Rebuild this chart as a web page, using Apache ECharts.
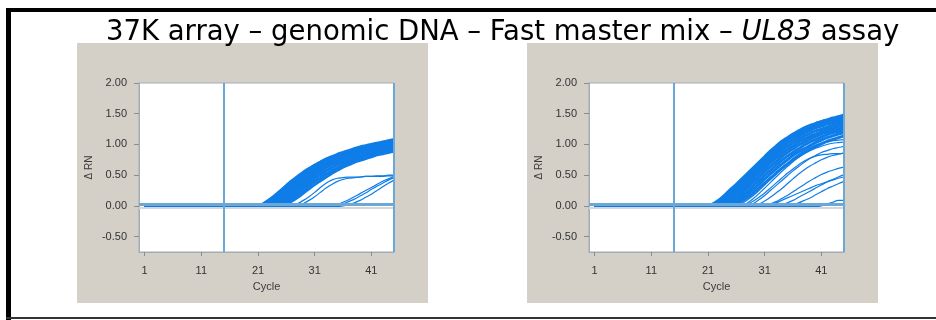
<!DOCTYPE html>
<html>
<head>
<meta charset="utf-8">
<script src="https://cdn.jsdelivr.net/npm/echarts@6/dist/echarts.min.js"></script>
<style>
  html, body { margin: 0; padding: 0; background: #ffffff; }
  #chart { width: 936px; height: 320px; }
</style>
</head>
<body>
<div id="chart"></div>
<script>
// Amplification plots (ΔRn vs cycle) for two runs of the UL83 assay.
// Cycle positions shared by every curve: cycle 1, then each cycle 19..45.
const cycles = [1, 19, 20, 21, 22, 23, 24, 25, 26, 27, 28, 29, 30, 31, 32, 33, 34, 35, 36, 37, 38, 39, 40, 41, 42, 43, 44, 45];

const xTickCycles = [1, 11, 21, 31, 41];
const yTickValues = [-0.5, 0, 0.5, 1, 1.5, 2];
const thresholdRn = 0.02;
const baselineEndCycle = 15;
const lastCycle = 45;

// Left plot: main amplification band
const leftBand = [
  [0, 0, -0.01, 0, 0.04, 0.10, 0.17, 0.25, 0.33, 0.41, 0.48, 0.55, 0.61, 0.66, 0.71, 0.75, 0.79, 0.82, 0.85, 0.88, 0.91, 0.93, 0.95, 0.97, 0.99, 1.01, 1.03, 1.06],
  [0, 0, -0.01, 0, 0.03, 0.09, 0.16, 0.24, 0.32, 0.40, 0.47, 0.54, 0.60, 0.66, 0.71, 0.76, 0.80, 0.84, 0.87, 0.90, 0.93, 0.96, 0.98, 1.00, 1.02, 1.04, 1.06, 1.08],
  [0, 0, -0.01, -0.01, 0.02, 0.07, 0.13, 0.21, 0.29, 0.37, 0.44, 0.51, 0.58, 0.63, 0.68, 0.73, 0.77, 0.81, 0.84, 0.87, 0.90, 0.92, 0.95, 0.97, 0.99, 1.01, 1.03, 1.05],
  [0, 0, -0.01, -0.01, 0.01, 0.04, 0.10, 0.17, 0.25, 0.33, 0.41, 0.48, 0.55, 0.61, 0.66, 0.71, 0.75, 0.79, 0.83, 0.86, 0.89, 0.92, 0.94, 0.96, 0.98, 1.00, 1.02, 1.04],
  [0, 0, -0.01, -0.01, 0, 0.02, 0.07, 0.13, 0.21, 0.29, 0.37, 0.44, 0.51, 0.57, 0.63, 0.68, 0.72, 0.76, 0.80, 0.83, 0.86, 0.89, 0.91, 0.93, 0.95, 0.97, 0.99, 1.01],
  [0, 0, -0.01, -0.02, -0.01, 0.01, 0.04, 0.10, 0.17, 0.25, 0.33, 0.40, 0.47, 0.54, 0.60, 0.65, 0.70, 0.74, 0.78, 0.81, 0.84, 0.87, 0.90, 0.92, 0.94, 0.96, 0.98, 1.00],
  [0, 0, -0.01, -0.02, -0.01, 0, 0.02, 0.07, 0.13, 0.21, 0.29, 0.36, 0.43, 0.50, 0.56, 0.62, 0.67, 0.71, 0.75, 0.79, 0.82, 0.85, 0.88, 0.90, 0.92, 0.94, 0.96, 0.98],
  [0, 0, -0.01, -0.02, -0.02, -0.01, 0.01, 0.04, 0.09, 0.16, 0.24, 0.31, 0.38, 0.45, 0.51, 0.57, 0.62, 0.67, 0.71, 0.75, 0.78, 0.81, 0.84, 0.87, 0.89, 0.91, 0.93, 0.95],
  [0, 0, -0.01, -0.02, -0.02, -0.01, 0, 0.02, 0.06, 0.12, 0.19, 0.26, 0.33, 0.40, 0.46, 0.52, 0.57, 0.62, 0.67, 0.71, 0.74, 0.78, 0.81, 0.83, 0.86, 0.88, 0.90, 0.92],
  [0, 0, -0.01, -0.02, -0.02, -0.02, -0.01, 0, 0.03, 0.08, 0.14, 0.21, 0.28, 0.35, 0.41, 0.47, 0.53, 0.58, 0.63, 0.67, 0.71, 0.74, 0.77, 0.80, 0.83, 0.85, 0.87, 0.89]
];

// Left plot: low-plateau and late-rising wells
const leftSparse = [
  [0, 0, 0, -0.01, -0.01, -0.01, -0.01, -0.01, 0, 0.01, 0.04, 0.09, 0.15, 0.22, 0.30, 0.37, 0.42, 0.45, 0.46, 0.47, 0.47, 0.47, 0.48, 0.48, 0.48, 0.48, 0.49, 0.49],
  [0, 0, 0, -0.01, -0.01, -0.01, -0.01, -0.01, -0.01, -0.01, 0.01, 0.04, 0.09, 0.15, 0.22, 0.29, 0.35, 0.40, 0.43, 0.45, 0.46, 0.47, 0.48, 0.48, 0.49, 0.49, 0.50, 0.50],
  [0, 0, 0, -0.01, -0.01, -0.01, -0.01, -0.01, -0.01, -0.01, -0.01, -0.01, -0.01, -0.01, -0.01, -0.01, 0, 0.02, 0.06, 0.10, 0.15, 0.20, 0.25, 0.30, 0.35, 0.40, 0.44, 0.48],
  [0, 0, 0, -0.01, -0.01, -0.01, -0.01, -0.01, -0.01, -0.01, -0.01, -0.01, -0.01, -0.01, -0.01, -0.01, -0.01, -0.01, 0, 0.02, 0.05, 0.09, 0.14, 0.19, 0.25, 0.31, 0.37, 0.42],
  [0, 0, 0, -0.01, -0.01, -0.01, -0.01, -0.01, -0.01, -0.01, -0.01, -0.01, -0.01, -0.01, -0.01, -0.01, -0.01, 0, 0.03, 0.07, 0.11, 0.16, 0.21, 0.27, 0.32, 0.37, 0.42, 0.46]
];

// Right plot: main amplification band
const rightBand = [
  [0, 0, -0.01, 0, 0.03, 0.08, 0.16, 0.24, 0.33, 0.42, 0.51, 0.60, 0.69, 0.78, 0.86, 0.94, 1.02, 1.09, 1.15, 1.21, 1.26, 1.30, 1.34, 1.37, 1.40, 1.43, 1.45, 1.48],
  [0, 0, -0.01, 0, 0.04, 0.10, 0.18, 0.27, 0.35, 0.44, 0.53, 0.62, 0.71, 0.80, 0.89, 0.97, 1.05, 1.11, 1.17, 1.22, 1.27, 1.31, 1.34, 1.37, 1.39, 1.41, 1.43, 1.45],
  [0, 0, -0.01, -0.01, 0.02, 0.07, 0.14, 0.22, 0.31, 0.40, 0.49, 0.58, 0.67, 0.76, 0.84, 0.92, 1.00, 1.07, 1.13, 1.18, 1.23, 1.27, 1.30, 1.33, 1.36, 1.38, 1.40, 1.42],
  [0, 0, -0.01, -0.01, 0.01, 0.04, 0.10, 0.18, 0.27, 0.35, 0.44, 0.53, 0.62, 0.71, 0.80, 0.88, 0.95, 1.02, 1.08, 1.14, 1.19, 1.23, 1.27, 1.30, 1.33, 1.35, 1.37, 1.39],
  [0, 0, -0.01, -0.01, 0, 0.02, 0.07, 0.14, 0.22, 0.31, 0.40, 0.49, 0.58, 0.66, 0.75, 0.83, 0.90, 0.97, 1.03, 1.09, 1.14, 1.18, 1.22, 1.25, 1.28, 1.31, 1.33, 1.35],
  [0, 0, -0.01, -0.02, -0.01, 0.01, 0.04, 0.10, 0.18, 0.26, 0.35, 0.44, 0.53, 0.61, 0.70, 0.78, 0.85, 0.92, 0.98, 1.04, 1.09, 1.13, 1.17, 1.21, 1.24, 1.27, 1.29, 1.31],
  [0, 0, -0.01, -0.02, -0.01, 0, 0.02, 0.07, 0.13, 0.21, 0.30, 0.39, 0.47, 0.56, 0.64, 0.72, 0.80, 0.87, 0.93, 0.99, 1.04, 1.09, 1.13, 1.17, 1.20, 1.23, 1.25, 1.27],
  [0, 0, -0.01, -0.02, -0.02, -0.01, 0.01, 0.04, 0.09, 0.16, 0.24, 0.33, 0.41, 0.50, 0.58, 0.66, 0.74, 0.81, 0.87, 0.93, 0.99, 1.04, 1.08, 1.12, 1.16, 1.19, 1.21, 1.23],
  [0, 0, -0.01, -0.02, -0.02, -0.01, 0, 0.02, 0.06, 0.12, 0.19, 0.27, 0.35, 0.44, 0.52, 0.60, 0.68, 0.75, 0.82, 0.88, 0.93, 0.98, 1.03, 1.07, 1.11, 1.14, 1.17, 1.19],
  [0, 0, -0.01, -0.02, -0.02, -0.02, -0.01, 0, 0.03, 0.08, 0.14, 0.21, 0.29, 0.37, 0.45, 0.53, 0.61, 0.68, 0.75, 0.81, 0.87, 0.92, 0.97, 1.01, 1.05, 1.08, 1.11, 1.14]
];

// Right plot: slower wells fanning out below the band
const rightSparse = [
  [0, 0, 0, -0.01, -0.01, -0.01, -0.01, -0.01, 0, 0.04, 0.10, 0.17, 0.25, 0.34, 0.43, 0.52, 0.61, 0.69, 0.77, 0.84, 0.90, 0.95, 0.99, 1.02, 1.04, 1.06, 1.07, 1.08],
  [0, 0, 0, -0.01, -0.01, -0.01, -0.01, -0.01, -0.01, 0, 0.05, 0.12, 0.20, 0.29, 0.38, 0.47, 0.56, 0.64, 0.72, 0.79, 0.85, 0.90, 0.94, 0.97, 1.00, 1.02, 1.03, 1.04],
  [0, 0, 0, -0.01, -0.01, -0.01, -0.01, -0.01, -0.01, -0.01, 0, 0.04, 0.10, 0.17, 0.25, 0.33, 0.41, 0.49, 0.57, 0.64, 0.71, 0.77, 0.82, 0.87, 0.90, 0.93, 0.95, 0.97],
  [0, 0, 0, -0.01, -0.01, -0.01, -0.01, -0.01, -0.01, -0.01, -0.01, 0, 0.03, 0.08, 0.14, 0.21, 0.28, 0.36, 0.44, 0.52, 0.59, 0.65, 0.70, 0.75, 0.79, 0.82, 0.84, 0.86],
  [0, 0, 0, -0.01, -0.01, -0.01, -0.01, -0.01, -0.01, 0, 0.03, 0.08, 0.14, 0.21, 0.29, 0.37, 0.45, 0.53, 0.60, 0.67, 0.73, 0.78, 0.81, 0.83, 0.84, 0.85, 0.85, 0.86],
  [0, 0, 0, -0.01, -0.01, -0.01, -0.01, -0.01, -0.01, -0.01, -0.01, -0.01, -0.01, 0, 0.03, 0.07, 0.12, 0.17, 0.23, 0.29, 0.35, 0.41, 0.46, 0.51, 0.55, 0.58, 0.61, 0.63],
  [0, 0, 0, -0.01, -0.01, -0.01, -0.01, -0.01, -0.01, -0.01, -0.01, -0.01, -0.01, -0.01, -0.01, 0, 0.02, 0.05, 0.09, 0.14, 0.19, 0.24, 0.29, 0.34, 0.39, 0.43, 0.47, 0.51],
  [0, 0, 0, -0.01, -0.01, -0.01, -0.01, -0.01, -0.01, -0.01, -0.01, -0.01, -0.01, -0.01, -0.01, -0.01, -0.01, 0, 0.02, 0.05, 0.09, 0.13, 0.18, 0.23, 0.28, 0.32, 0.36, 0.40],
  [0, 0, 0, -0.01, -0.01, -0.01, -0.01, -0.01, -0.01, -0.01, -0.01, -0.01, -0.01, 0, 0.02, 0.05, 0.09, 0.13, 0.17, 0.21, 0.25, 0.29, 0.33, 0.36, 0.39, 0.42, 0.45, 0.47],
  [0, 0, 0, -0.01, -0.01, -0.01, -0.01, -0.01, -0.01, -0.01, -0.01, -0.01, -0.01, -0.01, -0.01, -0.01, -0.01, -0.01, -0.01, -0.01, -0.01, -0.01, -0.01, 0, 0.03, 0.06, 0.09, 0.09]
];

const CURVE_BLUE = '#0f7de8';
const GUIDE_BLUE = '#6aa8d8';
const PANEL_GREY = '#d4d0c8';
const LABEL_FONT = 'Liberation Sans';

const chart = echarts.init(document.getElementById('chart'), null, { renderer: 'canvas' });

function curveSeries(values, panel, width) {
  return {
    type: 'line',
    xAxisIndex: panel,
    yAxisIndex: panel,
    data: cycles.map((c, i) => [c, values[i]]),
    symbol: 'none',
    showSymbol: false,
    smooth: 0.25,
    silent: true,
    animation: false,
    z: 2,
    lineStyle: { color: CURVE_BLUE, width: width }
  };
}

function guideSeries(panel) {
  return {
    type: 'line',
    xAxisIndex: panel,
    yAxisIndex: panel,
    data: [],
    silent: true,
    animation: false,
    markLine: {
      symbol: 'none',
      silent: true,
      animation: false,
      label: { show: false },
      lineStyle: { color: GUIDE_BLUE, width: 2, type: 'solid' },
      data: [
        { yAxis: -0.03, lineStyle: { color: '#d6d6d6', width: 2, type: 'solid' } },
        { yAxis: thresholdRn, lineStyle: { color: GUIDE_BLUE, width: 3, type: 'solid' } },
        { xAxis: baselineEndCycle },
        { xAxis: lastCycle }
      ]
    }
  };
}

const plotLefts = [139, 589];

const grids = plotLefts.map(left => ({
  left: left, top: 83, width: 255, height: 169,
  show: true, backgroundColor: '#ffffff', borderColor: '#a3abb4', borderWidth: 1,
  containLabel: false
}));

const xAxes = plotLefts.map((_, i) => ({
  type: 'value', gridIndex: i, min: 0, max: 45,
  name: 'Cycle', nameLocation: 'middle', nameGap: 29,
  nameTextStyle: { fontFamily: LABEL_FONT, fontSize: 11, color: '#3a3a3a' },
  axisLine: { show: true, onZero: false, lineStyle: { color: '#a3abb4' } },
  axisTick: { show: true, length: 4, customValues: xTickCycles, lineStyle: { color: '#8c8c8c' } },
  axisLabel: { customValues: xTickCycles, margin: 13, fontFamily: LABEL_FONT, fontSize: 11, color: '#333333' },
  splitLine: { show: false }
}));

const yAxes = plotLefts.map((_, i) => ({
  type: 'value', gridIndex: i, min: -0.75, max: 2.0,
  name: 'Δ RN', nameLocation: 'middle', nameRotate: 90, nameGap: 45,
  nameTextStyle: { fontFamily: LABEL_FONT, fontSize: 10, color: '#3a3a3a' },
  axisLine: { show: true, onZero: false, lineStyle: { color: '#a3abb4' } },
  axisTick: { show: true, length: 5, customValues: yTickValues, lineStyle: { color: '#8c8c8c' } },
  axisLabel: { customValues: yTickValues, margin: 12, fontFamily: LABEL_FONT, fontSize: 11, color: '#333333',
    formatter: v => v.toFixed(2) },
  splitLine: { show: false }
}));

const series = [];
leftBand.forEach(v => series.push(curveSeries(v, 0, 3)));
leftSparse.forEach(v => series.push(curveSeries(v, 0, 1.2)));
rightBand.forEach(v => series.push(curveSeries(v, 1, 3)));
rightSparse.forEach(v => series.push(curveSeries(v, 1, 1.2)));
series.push(guideSeries(0));
series.push(guideSeries(1));

const option = {
  animation: false,
  backgroundColor: '#ffffff',
  title: {
    text: '{n|37K array – genomic DNA – Fast master mix – }{i|UL83}{n| assay}',
    left: 106, top: 19, padding: 0,
    textStyle: {
      fontWeight: 'normal',
      rich: {
        n: { fontFamily: 'DejaVu Sans', fontSize: 27.5, fontWeight: 'normal', color: '#000000' },
        i: { fontFamily: 'DejaVu Sans', fontSize: 27.5, fontWeight: 'normal', fontStyle: 'italic', color: '#000000' }
      }
    }
  },
  graphic: {
    elements: [
      { type: 'rect', z: -10, silent: true, shape: { x: 77, y: 43, width: 351, height: 260 }, style: { fill: PANEL_GREY } },
      { type: 'rect', z: -10, silent: true, shape: { x: 527, y: 43, width: 351, height: 260 }, style: { fill: PANEL_GREY } },
      { type: 'rect', silent: true, shape: { x: 6, y: 8, width: 930, height: 4 }, style: { fill: '#000000' } },
      { type: 'rect', silent: true, shape: { x: 6, y: 8, width: 5, height: 312 }, style: { fill: '#000000' } },
      { type: 'rect', silent: true, shape: { x: 6, y: 317, width: 930, height: 2 }, style: { fill: '#333333' } }
    ]
  },
  grid: grids,
  xAxis: xAxes,
  yAxis: yAxes,
  series: series
};

chart.setOption(option);
</script>
</body>
</html>
